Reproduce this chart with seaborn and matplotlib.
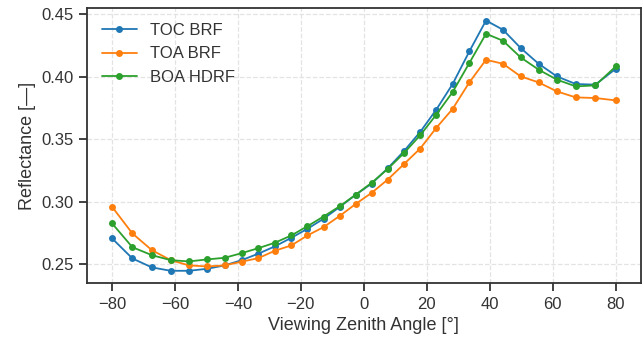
import numpy as np
import pandas as pd
import matplotlib
matplotlib.use("Agg")
import matplotlib.pyplot as plt
import seaborn as sns

# viewing zenith angles (deg)
vza = [-80, -73.5, -67.3, -61.3, -55.5, -49.8, -44.2, -38.8, -33.5, -28.2,
       -23.0, -17.9, -12.8, -7.6, -2.5, 2.5, 7.6, 12.8, 17.9, 23.0,
       28.2, 33.5, 38.8, 44.2, 49.8, 55.5, 61.3, 67.3, 73.5, 80]

toc_brf = [0.2710, 0.2548, 0.2476, 0.2449, 0.2449, 0.2465, 0.2492, 0.2534, 0.2586, 0.2645,
           0.2713, 0.2785, 0.2865, 0.2961, 0.3059, 0.3147, 0.3269, 0.3408, 0.3560, 0.3738,
           0.3943, 0.4204, 0.4451, 0.4377, 0.4231, 0.4105, 0.4004, 0.3943, 0.3938, 0.4065]

toa_brf = [0.2963, 0.2748, 0.2614, 0.2534, 0.2492, 0.2484, 0.2492, 0.2522, 0.2550, 0.2610,
           0.2652, 0.2732, 0.2798, 0.2889, 0.2985, 0.3073, 0.3179, 0.3304, 0.3427, 0.3592,
           0.3744, 0.3956, 0.4137, 0.4105, 0.4004, 0.3956, 0.3884, 0.3836, 0.3831, 0.3812]

boa_hdrf = [0.2830, 0.2638, 0.2574, 0.2534, 0.2524, 0.2540, 0.2553, 0.2590, 0.2630, 0.2674,
            0.2732, 0.2806, 0.2883, 0.2966, 0.3059, 0.3153, 0.3264, 0.3392, 0.3533, 0.3698,
            0.3879, 0.4111, 0.4345, 0.4289, 0.4156, 0.4058, 0.3978, 0.3924, 0.3932, 0.4084]

series = {"TOC BRF": toc_brf, "TOA BRF": toa_brf, "BOA HDRF": boa_hdrf}
colors = ["#1f77b4", "#ff7f0e", "#2ca02c"]

sns.set_theme(style="ticks")
plt.rcParams["font.family"] = ["Liberation Sans", "DejaVu Sans"]
plt.rcParams["axes.edgecolor"] = "#333333"
plt.rcParams["axes.linewidth"] = 1.3

fig = plt.figure(figsize=(6.44, 3.42), dpi=100)
ax = fig.add_axes([0.1346, 0.1716, 0.8607, 0.805])

for (name, vals), c in zip(series.items(), colors):
    sns.lineplot(x=vza, y=vals, ax=ax, color=c, marker="o", markersize=5,
                 markeredgewidth=0, linewidth=1.3, label=name)

ax.grid(True, linestyle="--", color="#e3e3e3", linewidth=0.9)
ax.set_axisbelow(True)
ax.set_xticks([-80, -60, -40, -20, 0, 20, 40, 60, 80])
ax.set_yticks([0.25, 0.30, 0.35, 0.40, 0.45])
ax.yaxis.set_major_formatter(matplotlib.ticker.FormatStrFormatter("%.2f"))
ax.tick_params(axis="both", labelsize=12, length=6, width=1.3, colors="#333333")
ax.set_xlabel("Viewing Zenith Angle [°]", fontsize=13, color="#333333")
ax.set_ylabel("Reflectance [—]", fontsize=13, color="#333333")
ax.legend(loc="upper left", frameon=False, fontsize=12, handlelength=2.1,
          labelcolor="#333333")

fig.savefig("out.png", dpi=100)
